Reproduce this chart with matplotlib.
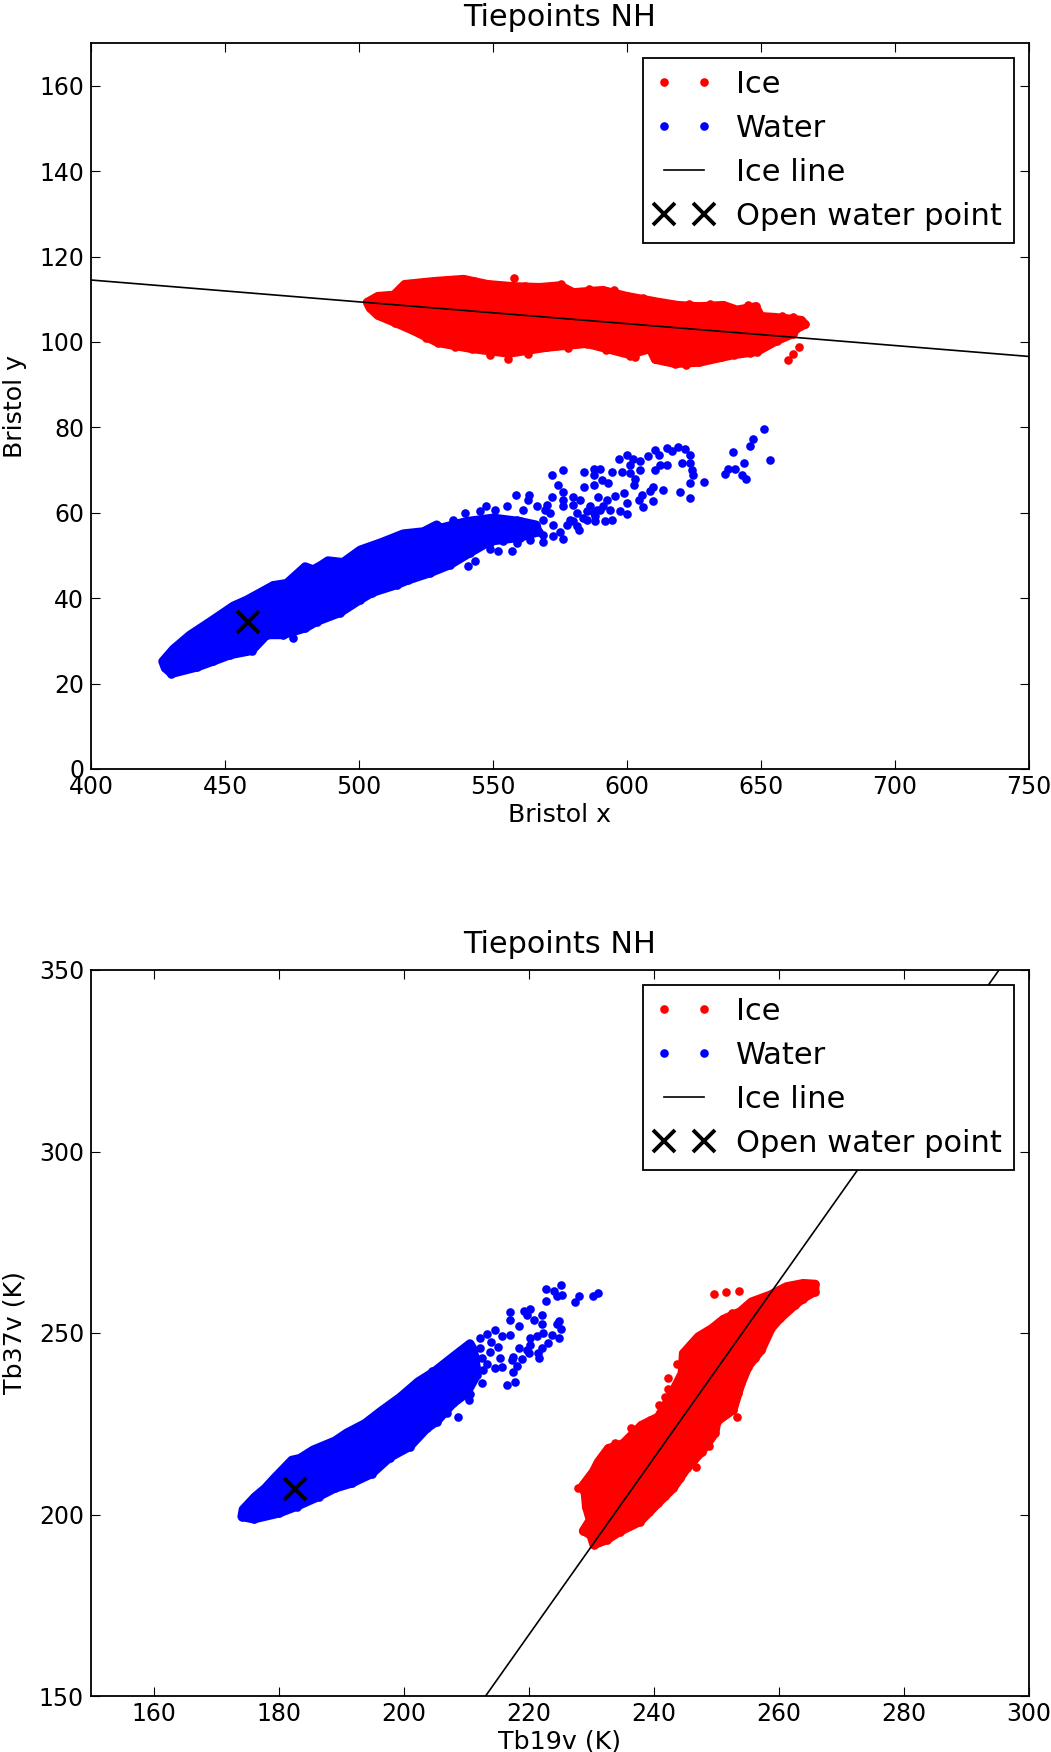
import matplotlib
matplotlib.use('Agg')
import matplotlib.pyplot as plt

plt.rcParams['font.family'] = ['DejaVu Sans']
plt.rcParams['font.size'] = 17

# ---- Bristol panel ----
# dense clouds are kept as the outline of marker centres
bristol_ice_x = [503, 507, 513, 517, 528, 539, 548, 557.5, 567.5, 575, 580, 591, 600, 612, 619, 627, 636, 641, 648,
                 650, 655, 665, 666.5, 663, 662, 656, 648.5, 640, 627, 618, 610.5, 608.6, 601, 585, 570, 556, 542,
                 529.5, 520, 513.5, 507, 504]
bristol_ice_y = [109.3, 110.7, 111, 113.5, 114.2, 114.7, 113.5, 113, 112.8, 113.2, 111.6, 112.1, 110.7, 109.3, 108.6,
                 108.3, 108.6, 107.5, 108.3, 106, 105.8, 105.1, 104.1, 103, 101.9, 100.3, 97.7, 97, 95.2, 94.9, 95.9,
                 98.4, 97, 99.6, 98.7, 97.3, 98.4, 99.8, 102.7, 104.5, 106.2, 108]
bristol_ice_extra_x = [557.9, 664.2, 661.8, 660, 555.7, 601, 522, 533, 543, 552, 562, 575.5, 586, 595, 606, 615, 623,
                       631, 645, 658, 662, 646, 635, 622, 614, 603, 592, 578, 563, 549, 536, 525]
bristol_ice_extra_y = [114.9, 98.9, 97.2, 95.7, 95.9, 96.8, 112.3, 114.5, 114.2, 113.2, 113.1, 113.5, 112.5, 112.1,
                       110.2, 108.4, 108.9, 108.9, 108.6, 106.1, 105.9, 97.4, 96.4, 94.5, 95.5, 96.5, 98.1, 98.6,
                       97.2, 97, 98.9, 101]

bristol_water_x = [426.7, 430.7, 436.9, 444.4, 453.1, 458.1, 468, 473, 479.9, 482.9, 486, 488.4, 494, 500.4, 504,
                   508.5, 516.5, 524, 529, 530.2, 540.2, 550.1, 560, 566, 567, 560, 548.9, 541.4, 534,
                   526.5, 518.3, 514, 505, 500.4, 493, 484.2, 480, 471.7, 465.6, 460, 451.9, 445.6, 439.4, 430, 427.6]
bristol_water_y = [25.2, 28.1, 31.4, 34.5, 38.2, 39.6, 43, 43.5, 47.4, 46.7, 47.8, 48.8, 48.4, 51.3, 52.1, 53.1, 55.1,
                   55.6, 57.2, 56.4, 58, 58.8, 58, 57.2, 55.5, 54.2, 53.3, 50.6, 47.8, 45.9, 44.2, 43.1, 41.3,
                   39.6, 36.6, 34.5, 33, 31.4, 31.4, 27.7, 26.7, 25.2, 23.8, 22.3, 23.7]
bristol_water_extra_x = [475.5, 651.2, 646.9, 645.9, 639.7, 653.4, 643.7, 637.5, 640.3, 636.7, 642.8, 644.4, 628.8,
                         623.5, 624.8, 624.2, 623.5, 620.4, 623.5, 621.7, 619.2, 615.1, 616.7, 610.5, 612.1, 608,
                         615.1, 612.3, 610.5, 604.9, 602.4, 599.9, 597, 601.1, 604.9, 601.1, 603, 598, 594.3, 589.9,
                         587.5, 584, 587.5, 590.6, 593, 587.5, 584, 602.6, 609.8, 608.6, 613.6, 619.6, 623.5, 609.8,
                         605.5, 604.3, 606.1, 598.7, 595.5, 599.9, 597.4, 599.9, 592.4, 589.3, 594.3, 591.8, 588.1,
                         576, 572, 574.4, 576.3, 572, 576.3, 580, 558.6, 563.3, 563.2, 547.3, 582.5, 586.2, 581.2,
                         578.7, 576.3, 570, 566.3, 561.3, 555.1, 550.8, 545.2, 539.6, 535.2, 576.3, 568.8, 557, 552,
                         548.9, 543.3, 540.8, 582.2, 572.5, 588.7, 591.2, 585, 580, 588.1, 593.7,
                         558.8, 563.8, 568.8, 572.5, 577.5, 575, 568.8, 563.8, 558.8, 553.9, 571.3, 569.4, 580,
                         583.7, 587.5, 590, 585, 581.2, 548.9]
bristol_water_extra_y = [30.6, 79.5, 77.3, 75.6, 74.2, 72.3, 71.7, 70.3, 70.3, 69.1, 68.8, 68, 67.3, 67, 68.9, 70.1,
                         71.7, 71.7, 73.5, 75, 75.4, 75.2, 74.4, 74.6, 73.5, 73.2, 71.3, 71.3, 69.9, 72.1, 72.5, 73.6,
                         72.7, 71.3, 69.9, 69.3, 68, 69.5, 69.5, 70.3, 70.3, 69.5, 68.9, 67.6, 67, 66.6, 66, 66.4, 66,
                         65, 65.3, 64.9, 63.5, 62.8, 64.2, 62.9, 61.3, 64.6, 64, 62.3, 60.3, 59.6, 63.1, 63.7, 58.4,
                         58.1, 58, 69.9, 68.8, 66.4, 64.9, 63.8, 63.1, 63.8, 64.2, 64.2, 63.1, 61.7, 63.1, 61.5, 59.9,
                         58.4, 61.5, 61.9, 61.5, 60.7, 61.5, 60.7, 60.3, 59.9, 58.4, 53.8, 53.1, 51, 51, 51.5, 48.8,
                         47.6, 56, 54.6, 60.7, 61.5, 60.3, 61.9, 59.2, 60.7,
                         58.4, 57.2, 58.4, 57.2, 57.2, 55.6, 54.9, 53.7, 52.9, 53.3, 59.9, 60.7, 58,
                         58.8, 59.9, 60.7, 58.4, 56.8, 52.9]

bristol_line_x = [400, 750]
bristol_line_y = [114.5, 96.6]
bristol_owp = (458.6, 34.4)

# ---- Tb panel ----
tb_ice_x = [228.5, 230.3, 231.1, 232.7, 235.1, 238, 240.7, 242.6, 244.5, 244.7, 247.1, 249.3, 251.1, 253.8, 255.6,
            258.6, 261.2, 263.9, 265.8, 265.8, 263.9, 262.6, 260.2, 258.8, 257.2, 255.1, 254, 253.5, 252.7, 250.1,
            249.8, 247.7, 245.3, 243.1, 240.7, 237.8, 234.6, 232.5, 230.4, 229.9, 228.7, 229.8, 229.2, 229]
tb_ice_y = [207.7, 211.8, 214.5, 218.2, 219.6, 224.6, 226.9, 232.5, 238.9, 244.4, 249, 251.3, 253.8, 255.9, 258.6,
            260.5, 262.8, 263.7, 263.5, 261.4, 259.5, 257.7, 254, 251.3, 245.3, 240.7, 236.1, 233.4, 228.8, 225.6,
            222.4, 217.3, 212.7, 207.2, 203.1, 198, 195.3, 193, 191.6, 194.3, 195.5, 198.5, 202.1, 205.8]
tb_ice_extra_x = [249.6, 251.5, 253.7, 253.3, 246.7, 236.3, 242.3, 242.3, 244.6, 241.8, 240.9,
                  233.8, 237.2, 239.4, 243.7, 246, 250.4, 252.5, 257, 259.7, 256.2, 251.6, 248.8, 244.2, 241.8,
                  239.2, 236, 227.9]
tb_ice_extra_y = [260.7, 261.2, 261.6, 226.9, 213.2, 223.7, 237.5, 234.5, 242.4, 232.5, 230.2,
                  219.8, 223, 226, 241.5, 247, 252.8, 255.4, 259.4, 256.4, 243, 231, 219, 210, 205,
                  200.6, 196.7, 207.3]

tb_water_x = [174.3, 176.2, 177.8, 179.4, 182.1, 183.4, 185.5, 189, 190.9, 193.8, 196.2, 199.4, 202.3, 204.8, 207.9,
              210.6, 211, 211.5, 211.7, 210.1, 207.9, 205.3, 203.7, 201, 197.8, 194.9, 191.7, 189,
              186.4, 182.9, 180, 176, 174.1]
tb_water_y = [201.4, 204.9, 207.2, 210.2, 215, 215.5, 217.8, 220.3, 222.5, 225.1, 228.3, 232.3, 236.6, 239.3, 243.5,
              247.1, 246, 243, 238.4, 233.4, 230.6, 225.6, 223.7, 218.7, 215.7, 211.2, 208.6, 207.2,
              204.9, 202.2, 200.3, 198.7, 199.4]
tb_water_extra_x = [225.2, 222.8, 224.1, 225.3, 224.6, 228.1, 227.4, 230.2, 231.1, 222.7, 217, 217, 219.2, 220.2, 219.8,
                    220.9, 222.1, 222.1, 218.4, 224.9, 224.5, 225.2, 224.8, 223.8, 222.3, 221.4, 220.2, 223.1, 222.1,
                    221.5, 221.7, 220.2, 219.7, 218.5, 220, 218.9, 217.5, 217.3, 218.2, 217.5, 217, 215.7, 215.4,
                    215.7, 214.6, 217.8, 216.6, 212.7, 212.6, 210.6, 210.5, 209.8, 204.5, 208.7, 206.9,
                    212.2, 214.6, 213.4, 215.1, 213.8, 212.2, 214, 212.6, 213.4, 211.6]
tb_water_extra_y = [263.2, 262, 261.6, 260.6, 260.2, 260.2, 258.6, 260.3, 260.9, 258.9, 255.9, 253.6, 256.1, 256.6, 255,
                    253.6, 255, 252.4, 252, 253.3, 252.5, 251, 248.5, 249.5, 249.9, 249.2, 248.5, 247.2, 245.8, 244.4,
                    243, 246.7, 245.3, 245.8, 244.4, 242.8, 243.5, 242.6, 240.9, 239.3, 249.5, 249.2, 243, 240.7,
                    240.3, 236.6, 235.7, 239.8, 236.1, 233.1, 231.5, 235.7, 239.6, 226.9, 227.9,
                    248.5, 250.8, 249.8, 246.2, 244.8, 246, 247.5, 243, 241.5, 240.5]

tb_line_x = [213.1, 295.2]
tb_line_y = [150, 350]
tb_owp = (182.7, 206.9)

MS = 6.2  # marker diameter in points


def draw_cloud(ax, x, y, extra_x, extra_y, color, label):
    # outline stroked as wide as a marker, so the edge looks like the marker edge
    ax.fill(x, y, facecolor=color, edgecolor=color, linewidth=MS, joinstyle='round', zorder=2)
    ax.plot(x + extra_x, y + extra_y, 'o', color=color, ms=MS, mew=0, label=label, zorder=2)


def draw_panel(ax, ice, water, line, owp, xlim, ylim, xticks, yticks, xlabel, ylabel):
    draw_cloud(ax, ice[0], ice[1], ice[2], ice[3], 'red', 'Ice')
    draw_cloud(ax, water[0], water[1], water[2], water[3], 'blue', 'Water')
    ax.plot(line[0], line[1], '-', color='k', lw=1.2, label='Ice line', zorder=3)
    ax.plot([owp[0]], [owp[1]], 'x', color='k', ms=16.5, mew=2.8, label='Open water point', zorder=4)
    ax.set_xlim(xlim)
    ax.set_ylim(ylim)
    ax.set_xticks(xticks)
    ax.set_yticks(yticks)
    ax.tick_params(direction='in', top=True, right=True, length=6.5, width=0.8, labelsize=17)
    ax.tick_params(axis='x', pad=4)
    ax.tick_params(axis='y', pad=5)
    for s in ax.spines.values():
        s.set_linewidth(1.3)
    ax.set_title('Tiepoints NH', fontsize=21.8, pad=12)
    ax.set_xlabel(xlabel, fontsize=18.2, labelpad=3)
    ax.set_ylabel(ylabel, fontsize=18.2, labelpad=9)
    leg = ax.legend(loc='upper right', numpoints=2, fontsize=22, fancybox=False, framealpha=1,
                    edgecolor='k', borderaxespad=0.49, handlelength=1.9, handletextpad=0.75, labelspacing=0.49)
    leg.get_frame().set_linewidth(1.3)


fig = plt.figure(figsize=(10.51, 17.52), dpi=100)
ax1 = fig.add_axes([91 / 1051, 1 - 769 / 1752, 938 / 1051, 726 / 1752])
ax2 = fig.add_axes([91 / 1051, 1 - 1696 / 1752, 938 / 1051, 726 / 1752])

draw_panel(ax1, (bristol_ice_x, bristol_ice_y, bristol_ice_extra_x, bristol_ice_extra_y),
           (bristol_water_x, bristol_water_y, bristol_water_extra_x, bristol_water_extra_y),
           (bristol_line_x, bristol_line_y), bristol_owp, (400, 750), (0, 170),
           range(400, 751, 50), range(0, 161, 20), 'Bristol x', 'Bristol y')
draw_panel(ax2, (tb_ice_x, tb_ice_y, tb_ice_extra_x, tb_ice_extra_y),
           (tb_water_x, tb_water_y, tb_water_extra_x, tb_water_extra_y),
           (tb_line_x, tb_line_y), tb_owp, (150, 300), (150, 350),
           range(160, 301, 20), range(150, 351, 50), 'Tb19v (K)', 'Tb37v (K)')

fig.savefig('out.png', dpi=100)
